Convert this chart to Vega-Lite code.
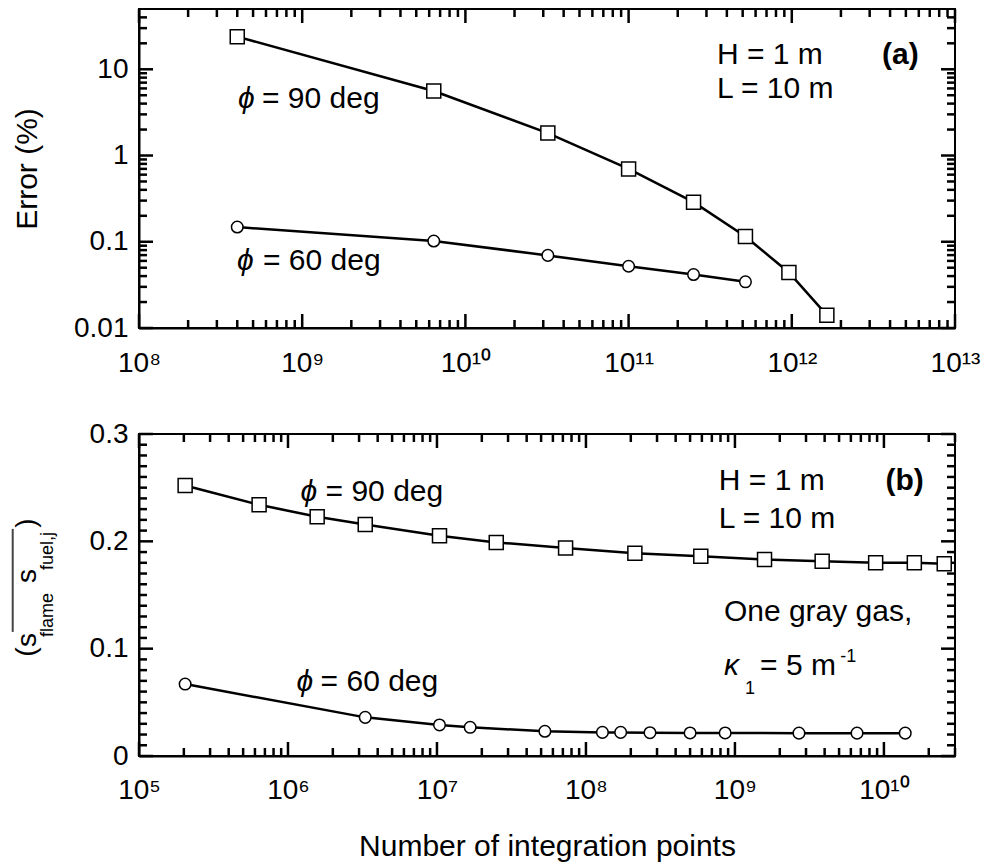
{
 "$schema": "https://vega.github.io/schema/vega-lite/v6.json",
 "background": "white",
 "padding": {"left": 10, "top": 8, "right": 5, "bottom": 2},
 "bounds": "flush",
 "spacing": 106,
 "config": {
  "view": {"stroke": "black", "strokeWidth": 2},
  "axis": {"grid": false, "domainColor": "black", "domainWidth": 2, "ticks": false,
   "labelFont": "Liberation Sans", "labelFontSize": 28, "labelColor": "black",
   "titleFont": "Liberation Sans", "titleFontSize": 30, "titleFontWeight": "normal", "titleColor": "black",
   "labelOverlap": false, "labelFlush": false, "minExtent": 0}
 },
 "datasets": {
  "pts": [
   {"p": "a", "s": "sq", "n": 4.0e8, "v": 23.9},
   {"p": "a", "s": "sq", "n": 6.4e9, "v": 5.6},
   {"p": "a", "s": "sq", "n": 3.2e10, "v": 1.82},
   {"p": "a", "s": "sq", "n": 1.0e11, "v": 0.70},
   {"p": "a", "s": "sq", "n": 2.5e11, "v": 0.288},
   {"p": "a", "s": "sq", "n": 5.2e11, "v": 0.115},
   {"p": "a", "s": "sq", "n": 9.6e11, "v": 0.044},
   {"p": "a", "s": "sq", "n": 1.64e12, "v": 0.0141},
   {"p": "a", "s": "ci", "n": 4.0e8, "v": 0.148},
   {"p": "a", "s": "ci", "n": 6.4e9, "v": 0.102},
   {"p": "a", "s": "ci", "n": 3.2e10, "v": 0.0695},
   {"p": "a", "s": "ci", "n": 1.0e11, "v": 0.052},
   {"p": "a", "s": "ci", "n": 2.5e11, "v": 0.0417},
   {"p": "a", "s": "ci", "n": 5.2e11, "v": 0.0343},
   {"p": "b", "s": "sq", "n": 2.04e5, "v": 0.252},
   {"p": "b", "s": "sq", "n": 6.4e5, "v": 0.234},
   {"p": "b", "s": "sq", "n": 1.57e6, "v": 0.223},
   {"p": "b", "s": "sq", "n": 3.3e6, "v": 0.2156},
   {"p": "b", "s": "sq", "n": 1.04e7, "v": 0.2053},
   {"p": "b", "s": "sq", "n": 2.5e7, "v": 0.199},
   {"p": "b", "s": "sq", "n": 7.3e7, "v": 0.1938},
   {"p": "b", "s": "sq", "n": 2.13e8, "v": 0.189},
   {"p": "b", "s": "sq", "n": 5.9e8, "v": 0.186},
   {"p": "b", "s": "sq", "n": 1.58e9, "v": 0.183},
   {"p": "b", "s": "sq", "n": 3.85e9, "v": 0.1815},
   {"p": "b", "s": "sq", "n": 8.8e9, "v": 0.18},
   {"p": "b", "s": "sq", "n": 1.6e10, "v": 0.18},
   {"p": "b", "s": "sq", "n": 2.54e10, "v": 0.179},
   {"p": "b", "s": "ci", "n": 2.04e5, "v": 0.067},
   {"p": "b", "s": "ci", "n": 3.3e6, "v": 0.036},
   {"p": "b", "s": "ci", "n": 1.04e7, "v": 0.0289},
   {"p": "b", "s": "ci", "n": 1.67e7, "v": 0.0267},
   {"p": "b", "s": "ci", "n": 5.3e7, "v": 0.023},
   {"p": "b", "s": "ci", "n": 1.29e8, "v": 0.022},
   {"p": "b", "s": "ci", "n": 1.71e8, "v": 0.022},
   {"p": "b", "s": "ci", "n": 2.69e8, "v": 0.0217},
   {"p": "b", "s": "ci", "n": 5.0e8, "v": 0.0215},
   {"p": "b", "s": "ci", "n": 8.6e8, "v": 0.0215},
   {"p": "b", "s": "ci", "n": 2.69e9, "v": 0.0213},
   {"p": "b", "s": "ci", "n": 6.6e9, "v": 0.0213},
   {"p": "b", "s": "ci", "n": 1.39e10, "v": 0.0213}
  ],
  "tka": [
   {"ax": "x", "k": "M", "v": 1e8}, {"ax": "x", "k": "M", "v": 1e9}, {"ax": "x", "k": "M", "v": 1e10}, {"ax": "x", "k": "M", "v": 1e11}, {"ax": "x", "k": "M", "v": 1e12}, {"ax": "x", "k": "M", "v": 1e13},
   {"ax": "x", "k": "m", "v": 2e8}, {"ax": "x", "k": "m", "v": 3e8}, {"ax": "x", "k": "m", "v": 4e8}, {"ax": "x", "k": "m", "v": 5e8}, {"ax": "x", "k": "m", "v": 6e8}, {"ax": "x", "k": "m", "v": 7e8}, {"ax": "x", "k": "m", "v": 8e8}, {"ax": "x", "k": "m", "v": 9e8},
   {"ax": "x", "k": "m", "v": 2e9}, {"ax": "x", "k": "m", "v": 3e9}, {"ax": "x", "k": "m", "v": 4e9}, {"ax": "x", "k": "m", "v": 5e9}, {"ax": "x", "k": "m", "v": 6e9}, {"ax": "x", "k": "m", "v": 7e9}, {"ax": "x", "k": "m", "v": 8e9}, {"ax": "x", "k": "m", "v": 9e9},
   {"ax": "x", "k": "m", "v": 2e10}, {"ax": "x", "k": "m", "v": 3e10}, {"ax": "x", "k": "m", "v": 4e10}, {"ax": "x", "k": "m", "v": 5e10}, {"ax": "x", "k": "m", "v": 6e10}, {"ax": "x", "k": "m", "v": 7e10}, {"ax": "x", "k": "m", "v": 8e10}, {"ax": "x", "k": "m", "v": 9e10},
   {"ax": "x", "k": "m", "v": 2e11}, {"ax": "x", "k": "m", "v": 3e11}, {"ax": "x", "k": "m", "v": 4e11}, {"ax": "x", "k": "m", "v": 5e11}, {"ax": "x", "k": "m", "v": 6e11}, {"ax": "x", "k": "m", "v": 7e11}, {"ax": "x", "k": "m", "v": 8e11}, {"ax": "x", "k": "m", "v": 9e11},
   {"ax": "x", "k": "m", "v": 2e12}, {"ax": "x", "k": "m", "v": 3e12}, {"ax": "x", "k": "m", "v": 4e12}, {"ax": "x", "k": "m", "v": 5e12}, {"ax": "x", "k": "m", "v": 6e12}, {"ax": "x", "k": "m", "v": 7e12}, {"ax": "x", "k": "m", "v": 8e12}, {"ax": "x", "k": "m", "v": 9e12},
   {"ax": "y", "k": "M", "v": 0.01}, {"ax": "y", "k": "M", "v": 0.1}, {"ax": "y", "k": "M", "v": 1}, {"ax": "y", "k": "M", "v": 10},
   {"ax": "y", "k": "m", "v": 0.02}, {"ax": "y", "k": "m", "v": 0.03}, {"ax": "y", "k": "m", "v": 0.04}, {"ax": "y", "k": "m", "v": 0.05}, {"ax": "y", "k": "m", "v": 0.06}, {"ax": "y", "k": "m", "v": 0.07}, {"ax": "y", "k": "m", "v": 0.08}, {"ax": "y", "k": "m", "v": 0.09},
   {"ax": "y", "k": "m", "v": 0.2}, {"ax": "y", "k": "m", "v": 0.3}, {"ax": "y", "k": "m", "v": 0.4}, {"ax": "y", "k": "m", "v": 0.5}, {"ax": "y", "k": "m", "v": 0.6}, {"ax": "y", "k": "m", "v": 0.7}, {"ax": "y", "k": "m", "v": 0.8}, {"ax": "y", "k": "m", "v": 0.9},
   {"ax": "y", "k": "m", "v": 2}, {"ax": "y", "k": "m", "v": 3}, {"ax": "y", "k": "m", "v": 4}, {"ax": "y", "k": "m", "v": 5}, {"ax": "y", "k": "m", "v": 6}, {"ax": "y", "k": "m", "v": 7}, {"ax": "y", "k": "m", "v": 8}, {"ax": "y", "k": "m", "v": 9},
   {"ax": "y", "k": "m", "v": 20}, {"ax": "y", "k": "m", "v": 30}, {"ax": "y", "k": "m", "v": 40}
  ],
  "tkb": [
   {"ax": "x", "k": "M", "v": 1e5}, {"ax": "x", "k": "M", "v": 1e6}, {"ax": "x", "k": "M", "v": 1e7}, {"ax": "x", "k": "M", "v": 1e8}, {"ax": "x", "k": "M", "v": 1e9}, {"ax": "x", "k": "M", "v": 1e10},
   {"ax": "x", "k": "m", "v": 2e5}, {"ax": "x", "k": "m", "v": 3e5}, {"ax": "x", "k": "m", "v": 4e5}, {"ax": "x", "k": "m", "v": 5e5}, {"ax": "x", "k": "m", "v": 6e5}, {"ax": "x", "k": "m", "v": 7e5}, {"ax": "x", "k": "m", "v": 8e5}, {"ax": "x", "k": "m", "v": 9e5},
   {"ax": "x", "k": "m", "v": 2e6}, {"ax": "x", "k": "m", "v": 3e6}, {"ax": "x", "k": "m", "v": 4e6}, {"ax": "x", "k": "m", "v": 5e6}, {"ax": "x", "k": "m", "v": 6e6}, {"ax": "x", "k": "m", "v": 7e6}, {"ax": "x", "k": "m", "v": 8e6}, {"ax": "x", "k": "m", "v": 9e6},
   {"ax": "x", "k": "m", "v": 2e7}, {"ax": "x", "k": "m", "v": 3e7}, {"ax": "x", "k": "m", "v": 4e7}, {"ax": "x", "k": "m", "v": 5e7}, {"ax": "x", "k": "m", "v": 6e7}, {"ax": "x", "k": "m", "v": 7e7}, {"ax": "x", "k": "m", "v": 8e7}, {"ax": "x", "k": "m", "v": 9e7},
   {"ax": "x", "k": "m", "v": 2e8}, {"ax": "x", "k": "m", "v": 3e8}, {"ax": "x", "k": "m", "v": 4e8}, {"ax": "x", "k": "m", "v": 5e8}, {"ax": "x", "k": "m", "v": 6e8}, {"ax": "x", "k": "m", "v": 7e8}, {"ax": "x", "k": "m", "v": 8e8}, {"ax": "x", "k": "m", "v": 9e8},
   {"ax": "x", "k": "m", "v": 2e9}, {"ax": "x", "k": "m", "v": 3e9}, {"ax": "x", "k": "m", "v": 4e9}, {"ax": "x", "k": "m", "v": 5e9}, {"ax": "x", "k": "m", "v": 6e9}, {"ax": "x", "k": "m", "v": 7e9}, {"ax": "x", "k": "m", "v": 8e9}, {"ax": "x", "k": "m", "v": 9e9},
   {"ax": "x", "k": "m", "v": 2e10}, {"ax": "x", "k": "m", "v": 3e10},
   {"ax": "y", "k": "M", "v": 0}, {"ax": "y", "k": "M", "v": 0.1}, {"ax": "y", "k": "M", "v": 0.2}, {"ax": "y", "k": "M", "v": 0.3},
   {"ax": "y", "k": "m", "v": 0.01}, {"ax": "y", "k": "m", "v": 0.02}, {"ax": "y", "k": "m", "v": 0.03}, {"ax": "y", "k": "m", "v": 0.04}, {"ax": "y", "k": "m", "v": 0.05}, {"ax": "y", "k": "m", "v": 0.06}, {"ax": "y", "k": "m", "v": 0.07}, {"ax": "y", "k": "m", "v": 0.08}, {"ax": "y", "k": "m", "v": 0.09},
   {"ax": "y", "k": "m", "v": 0.11}, {"ax": "y", "k": "m", "v": 0.12}, {"ax": "y", "k": "m", "v": 0.13}, {"ax": "y", "k": "m", "v": 0.14}, {"ax": "y", "k": "m", "v": 0.15}, {"ax": "y", "k": "m", "v": 0.16}, {"ax": "y", "k": "m", "v": 0.17}, {"ax": "y", "k": "m", "v": 0.18}, {"ax": "y", "k": "m", "v": 0.19},
   {"ax": "y", "k": "m", "v": 0.21}, {"ax": "y", "k": "m", "v": 0.22}, {"ax": "y", "k": "m", "v": 0.23}, {"ax": "y", "k": "m", "v": 0.24}, {"ax": "y", "k": "m", "v": 0.25}, {"ax": "y", "k": "m", "v": 0.26}, {"ax": "y", "k": "m", "v": 0.27}, {"ax": "y", "k": "m", "v": 0.28}, {"ax": "y", "k": "m", "v": 0.29}
  ],
  "ann": [
   {"p": "a", "role": "phi", "x": 4.04e8, "y": 4.5, "t": "ϕ"},
   {"p": "a", "role": "text", "x": 5.67e8, "y": 4.5, "t": "= 90 deg"},
   {"p": "a", "role": "phi", "x": 3.99e8, "y": 0.0603, "t": "ϕ"},
   {"p": "a", "role": "text", "x": 5.75e8, "y": 0.0603, "t": "= 60 deg"},
   {"p": "a", "role": "text", "x": 3.48e11, "y": 14.5, "t": "H = 1 m"},
   {"p": "a", "role": "text", "x": 3.48e11, "y": 5.87, "t": "L = 10 m"},
   {"p": "a", "role": "bold", "x": 3.57e12, "y": 14.5, "t": "(a)"},
   {"p": "b", "role": "phi", "x": 1.214e6, "y": 0.246, "t": "ϕ"},
   {"p": "b", "role": "text", "x": 1.788e6, "y": 0.246, "t": "= 90 deg"},
   {"p": "b", "role": "phi", "x": 1.141e6, "y": 0.069, "t": "ϕ"},
   {"p": "b", "role": "text", "x": 1.656e6, "y": 0.069, "t": "= 60 deg"},
   {"p": "b", "role": "text", "x": 7.8e8, "y": 0.2563, "t": "H = 1 m"},
   {"p": "b", "role": "text", "x": 7.8e8, "y": 0.2209, "t": "L = 10 m"},
   {"p": "b", "role": "bold", "x": 1.024e10, "y": 0.2563, "t": "(b)"},
   {"p": "b", "role": "text", "x": 8.43e8, "y": 0.1342, "t": "One gray gas,"},
   {"p": "b", "role": "phi", "x": 8.43e8, "y": 0.0839, "t": "κ"},
   {"p": "b", "role": "text", "x": 1.474e9, "y": 0.0839, "t": "= 5 m"},
   {"p": "b", "role": "small", "x": 1.168e9, "y": 0.0624, "t": "1"},
   {"p": "b", "role": "small", "x": 5.09e9, "y": 0.0923, "t": "-1"},
   {"p": "b", "role": "ybig", "x": 1.76e4, "y": 0.0969, "t": "("},
   {"p": "b", "role": "ybig", "x": 1.79e4, "y": 0.1081, "t": "s"},
   {"p": "b", "role": "ysmall", "x": 2.45e4, "y": 0.1314, "t": "flame"},
   {"p": "b", "role": "ybig", "x": 1.79e4, "y": 0.1678, "t": "s"},
   {"p": "b", "role": "ysmall", "x": 2.45e4, "y": 0.1911, "t": "fuel,j"},
   {"p": "b", "role": "ybig", "x": 1.76e4, "y": 0.2171, "t": ")"}
  ],
  "bar": [
   {"p": "b", "x": 1.42e4, "y": 0.1156, "y2": 0.2116}
  ]
 },
 "vconcat": [
  {
   "width": 816, "height": 319,
   "layer": [
    {
     "data": {"name": "pts"},
     "transform": [{"filter": "datum.p == 'a'"}],
     "mark": {"type": "line", "color": "black", "strokeWidth": 2.5},
     "encoding": {
      "x": {"field": "n", "type": "quantitative", "scale": {"type": "log", "domain": [1e8, 1e13], "nice": false},
       "axis": {"orient": "bottom", "title": null, "values": [1e8,1e9,1e10,1e11,1e12,1e13],
        "labelExpr": "'10' + (round(log(datum.value)/LN10) >= 10 ? '¹' + ['⁰','¹','²','³','⁴','⁵','⁶','⁷','⁸','⁹'][round(log(datum.value)/LN10) - 10] : ['⁰','¹','²','³','⁴','⁵','⁶','⁷','⁸','⁹'][round(log(datum.value)/LN10)])",
        "labelPadding": 21}},
      "y": {"field": "v", "type": "quantitative", "scale": {"type": "log", "domain": [0.01, 50], "nice": false},
       "axis": {"orient": "left", "title": "Error (%)", "titlePadding": 31, "values": [0.01,0.1,1,10],
        "labelExpr": "toString(datum.value)", "labelPadding": 11}},
      "detail": {"field": "s"}
     }
    },
    {
     "data": {"name": "tka"}, "transform": [{"filter": "datum.ax == 'x' && datum.k == 'M'"}],
     "mark": {"type": "tick", "orient": "vertical", "size": 14, "thickness": 2.5, "color": "black", "opacity": 1, "yOffset": -7},
     "encoding": {"x": {"field": "v", "type": "quantitative"}, "y": {"datum": 0.01, "type": "quantitative"}}
    },
    {
     "data": {"name": "tka"}, "transform": [{"filter": "datum.ax == 'x' && datum.k == 'm'"}],
     "mark": {"type": "tick", "orient": "vertical", "size": 8, "thickness": 2.5, "color": "black", "opacity": 1, "yOffset": -4},
     "encoding": {"x": {"field": "v", "type": "quantitative"}, "y": {"datum": 0.01, "type": "quantitative"}}
    },
    {
     "data": {"name": "tka"}, "transform": [{"filter": "datum.ax == 'x' && datum.k == 'M'"}],
     "mark": {"type": "tick", "orient": "vertical", "size": 14, "thickness": 2.5, "color": "black", "opacity": 1, "yOffset": 7},
     "encoding": {"x": {"field": "v", "type": "quantitative"}, "y": {"datum": 50, "type": "quantitative"}}
    },
    {
     "data": {"name": "tka"}, "transform": [{"filter": "datum.ax == 'x' && datum.k == 'm'"}],
     "mark": {"type": "tick", "orient": "vertical", "size": 8, "thickness": 2.5, "color": "black", "opacity": 1, "yOffset": 4},
     "encoding": {"x": {"field": "v", "type": "quantitative"}, "y": {"datum": 50, "type": "quantitative"}}
    },
    {
     "data": {"name": "tka"}, "transform": [{"filter": "datum.ax == 'y' && datum.k == 'M'"}],
     "mark": {"type": "tick", "orient": "horizontal", "size": 14, "thickness": 2.5, "color": "black", "opacity": 1, "xOffset": 7},
     "encoding": {"y": {"field": "v", "type": "quantitative"}, "x": {"datum": 1e8, "type": "quantitative"}}
    },
    {
     "data": {"name": "tka"}, "transform": [{"filter": "datum.ax == 'y' && datum.k == 'm'"}],
     "mark": {"type": "tick", "orient": "horizontal", "size": 8, "thickness": 2.5, "color": "black", "opacity": 1, "xOffset": 4},
     "encoding": {"y": {"field": "v", "type": "quantitative"}, "x": {"datum": 1e8, "type": "quantitative"}}
    },
    {
     "data": {"name": "tka"}, "transform": [{"filter": "datum.ax == 'y' && datum.k == 'M'"}],
     "mark": {"type": "tick", "orient": "horizontal", "size": 14, "thickness": 2.5, "color": "black", "opacity": 1, "xOffset": -7},
     "encoding": {"y": {"field": "v", "type": "quantitative"}, "x": {"datum": 1e13, "type": "quantitative"}}
    },
    {
     "data": {"name": "tka"}, "transform": [{"filter": "datum.ax == 'y' && datum.k == 'm'"}],
     "mark": {"type": "tick", "orient": "horizontal", "size": 8, "thickness": 2.5, "color": "black", "opacity": 1, "xOffset": -4},
     "encoding": {"y": {"field": "v", "type": "quantitative"}, "x": {"datum": 1e13, "type": "quantitative"}}
    },
    {
     "data": {"name": "pts"},
     "transform": [{"filter": "datum.p == 'a' && datum.s == 'sq'"}],
     "mark": {"type": "point", "shape": "square", "size": 196, "filled": true, "fill": "white", "stroke": "black", "strokeWidth": 1.5, "opacity": 1},
     "encoding": {"x": {"field": "n", "type": "quantitative"}, "y": {"field": "v", "type": "quantitative"}}
    },
    {
     "data": {"name": "pts"},
     "transform": [{"filter": "datum.p == 'a' && datum.s == 'ci'"}],
     "mark": {"type": "point", "shape": "circle", "size": 133, "filled": true, "fill": "white", "stroke": "black", "strokeWidth": 1.5, "opacity": 1},
     "encoding": {"x": {"field": "n", "type": "quantitative"}, "y": {"field": "v", "type": "quantitative"}}
    },
    {
     "data": {"name": "ann"},
     "transform": [{"filter": "datum.p == 'a' && datum.role == 'text'"}],
     "mark": {"type": "text", "font": "Liberation Sans", "fontSize": 30, "align": "left", "baseline": "middle", "color": "black"},
     "encoding": {"x": {"field": "x", "type": "quantitative"}, "y": {"field": "y", "type": "quantitative"}, "text": {"field": "t"}}
    },
    {
     "data": {"name": "ann"},
     "transform": [{"filter": "datum.p == 'a' && datum.role == 'phi'"}],
     "mark": {"type": "text", "font": "Liberation Sans", "fontSize": 30, "fontStyle": "italic", "align": "left", "baseline": "middle", "color": "black"},
     "encoding": {"x": {"field": "x", "type": "quantitative"}, "y": {"field": "y", "type": "quantitative"}, "text": {"field": "t"}}
    },
    {
     "data": {"name": "ann"},
     "transform": [{"filter": "datum.p == 'a' && datum.role == 'bold'"}],
     "mark": {"type": "text", "font": "Liberation Sans", "fontSize": 30, "fontWeight": "bold", "align": "left", "baseline": "middle", "color": "black"},
     "encoding": {"x": {"field": "x", "type": "quantitative"}, "y": {"field": "y", "type": "quantitative"}, "text": {"field": "t"}}
    }
   ]
  },
  {
   "width": 816, "height": 322,
   "layer": [
    {
     "data": {"name": "pts"},
     "transform": [{"filter": "datum.p == 'b'"}],
     "mark": {"type": "line", "color": "black", "strokeWidth": 2.5},
     "encoding": {
      "x": {"field": "n", "type": "quantitative", "scale": {"type": "log", "domain": [1e5, 3e10], "nice": false},
       "axis": {"orient": "bottom", "title": "Number of integration points", "titlePadding": 27, "values": [1e5,1e6,1e7,1e8,1e9,1e10],
        "labelExpr": "'10' + (round(log(datum.value)/LN10) >= 10 ? '¹' + ['⁰','¹','²','³','⁴','⁵','⁶','⁷','⁸','⁹'][round(log(datum.value)/LN10) - 10] : ['⁰','¹','²','³','⁴','⁵','⁶','⁷','⁸','⁹'][round(log(datum.value)/LN10)])",
        "labelPadding": 20}},
      "y": {"field": "v", "type": "quantitative", "scale": {"type": "linear", "domain": [0, 0.3], "nice": false, "zero": false},
       "axis": {"orient": "left", "title": null, "values": [0, 0.1, 0.2, 0.3],
        "labelExpr": "toString(datum.value)", "labelPadding": 11}},
      "detail": {"field": "s"}
     }
    },
    {
     "data": {"name": "tkb"}, "transform": [{"filter": "datum.ax == 'x' && datum.k == 'M'"}],
     "mark": {"type": "tick", "orient": "vertical", "size": 14, "thickness": 2.5, "color": "black", "opacity": 1, "yOffset": -7},
     "encoding": {"x": {"field": "v", "type": "quantitative"}, "y": {"datum": 0, "type": "quantitative"}}
    },
    {
     "data": {"name": "tkb"}, "transform": [{"filter": "datum.ax == 'x' && datum.k == 'm'"}],
     "mark": {"type": "tick", "orient": "vertical", "size": 8, "thickness": 2.5, "color": "black", "opacity": 1, "yOffset": -4},
     "encoding": {"x": {"field": "v", "type": "quantitative"}, "y": {"datum": 0, "type": "quantitative"}}
    },
    {
     "data": {"name": "tkb"}, "transform": [{"filter": "datum.ax == 'x' && datum.k == 'M'"}],
     "mark": {"type": "tick", "orient": "vertical", "size": 14, "thickness": 2.5, "color": "black", "opacity": 1, "yOffset": 7},
     "encoding": {"x": {"field": "v", "type": "quantitative"}, "y": {"datum": 0.3, "type": "quantitative"}}
    },
    {
     "data": {"name": "tkb"}, "transform": [{"filter": "datum.ax == 'x' && datum.k == 'm'"}],
     "mark": {"type": "tick", "orient": "vertical", "size": 8, "thickness": 2.5, "color": "black", "opacity": 1, "yOffset": 4},
     "encoding": {"x": {"field": "v", "type": "quantitative"}, "y": {"datum": 0.3, "type": "quantitative"}}
    },
    {
     "data": {"name": "tkb"}, "transform": [{"filter": "datum.ax == 'y' && datum.k == 'M'"}],
     "mark": {"type": "tick", "orient": "horizontal", "size": 14, "thickness": 2.5, "color": "black", "opacity": 1, "xOffset": 7},
     "encoding": {"y": {"field": "v", "type": "quantitative"}, "x": {"datum": 1e5, "type": "quantitative"}}
    },
    {
     "data": {"name": "tkb"}, "transform": [{"filter": "datum.ax == 'y' && datum.k == 'm'"}],
     "mark": {"type": "tick", "orient": "horizontal", "size": 8, "thickness": 2.5, "color": "black", "opacity": 1, "xOffset": 4},
     "encoding": {"y": {"field": "v", "type": "quantitative"}, "x": {"datum": 1e5, "type": "quantitative"}}
    },
    {
     "data": {"name": "tkb"}, "transform": [{"filter": "datum.ax == 'y' && datum.k == 'M'"}],
     "mark": {"type": "tick", "orient": "horizontal", "size": 14, "thickness": 2.5, "color": "black", "opacity": 1, "xOffset": -7},
     "encoding": {"y": {"field": "v", "type": "quantitative"}, "x": {"datum": 3e10, "type": "quantitative"}}
    },
    {
     "data": {"name": "tkb"}, "transform": [{"filter": "datum.ax == 'y' && datum.k == 'm'"}],
     "mark": {"type": "tick", "orient": "horizontal", "size": 8, "thickness": 2.5, "color": "black", "opacity": 1, "xOffset": -4},
     "encoding": {"y": {"field": "v", "type": "quantitative"}, "x": {"datum": 3e10, "type": "quantitative"}}
    },
    {
     "data": {"name": "pts"},
     "transform": [{"filter": "datum.p == 'b' && datum.s == 'sq'"}],
     "mark": {"type": "point", "shape": "square", "size": 196, "filled": true, "fill": "white", "stroke": "black", "strokeWidth": 1.5, "opacity": 1},
     "encoding": {"x": {"field": "n", "type": "quantitative"}, "y": {"field": "v", "type": "quantitative"}}
    },
    {
     "data": {"name": "pts"},
     "transform": [{"filter": "datum.p == 'b' && datum.s == 'ci'"}],
     "mark": {"type": "point", "shape": "circle", "size": 133, "filled": true, "fill": "white", "stroke": "black", "strokeWidth": 1.5, "opacity": 1},
     "encoding": {"x": {"field": "n", "type": "quantitative"}, "y": {"field": "v", "type": "quantitative"}}
    },
    {
     "data": {"name": "ann"},
     "transform": [{"filter": "datum.p == 'b' && datum.role == 'text'"}],
     "mark": {"type": "text", "font": "Liberation Sans", "fontSize": 30, "align": "left", "baseline": "middle", "color": "black"},
     "encoding": {"x": {"field": "x", "type": "quantitative"}, "y": {"field": "y", "type": "quantitative"}, "text": {"field": "t"}}
    },
    {
     "data": {"name": "ann"},
     "transform": [{"filter": "datum.p == 'b' && datum.role == 'phi'"}],
     "mark": {"type": "text", "font": "Liberation Sans", "fontSize": 30, "fontStyle": "italic", "align": "left", "baseline": "middle", "color": "black"},
     "encoding": {"x": {"field": "x", "type": "quantitative"}, "y": {"field": "y", "type": "quantitative"}, "text": {"field": "t"}}
    },
    {
     "data": {"name": "ann"},
     "transform": [{"filter": "datum.p == 'b' && datum.role == 'bold'"}],
     "mark": {"type": "text", "font": "Liberation Sans", "fontSize": 30, "fontWeight": "bold", "align": "left", "baseline": "middle", "color": "black"},
     "encoding": {"x": {"field": "x", "type": "quantitative"}, "y": {"field": "y", "type": "quantitative"}, "text": {"field": "t"}}
    },
    {
     "data": {"name": "ann"},
     "transform": [{"filter": "datum.p == 'b' && datum.role == 'small'"}],
     "mark": {"type": "text", "font": "Liberation Sans", "fontSize": 18, "align": "left", "baseline": "middle", "color": "black"},
     "encoding": {"x": {"field": "x", "type": "quantitative"}, "y": {"field": "y", "type": "quantitative"}, "text": {"field": "t"}}
    },
    {
     "data": {"name": "ann"},
     "transform": [{"filter": "datum.p == 'b' && datum.role == 'ybig'"}],
     "mark": {"type": "text", "font": "Liberation Sans", "fontSize": 28, "angle": 270, "align": "center", "baseline": "middle", "color": "black"},
     "encoding": {"x": {"field": "x", "type": "quantitative"}, "y": {"field": "y", "type": "quantitative"}, "text": {"field": "t"}}
    },
    {
     "data": {"name": "ann"},
     "transform": [{"filter": "datum.p == 'b' && datum.role == 'ysmall'"}],
     "mark": {"type": "text", "font": "Liberation Sans", "fontSize": 18, "angle": 270, "align": "center", "baseline": "middle", "color": "black"},
     "encoding": {"x": {"field": "x", "type": "quantitative"}, "y": {"field": "y", "type": "quantitative"}, "text": {"field": "t"}}
    },
    {
     "data": {"name": "bar"},
     "mark": {"type": "rule", "color": "#444444", "strokeWidth": 2},
     "encoding": {"x": {"field": "x", "type": "quantitative"}, "y": {"field": "y", "type": "quantitative"}, "y2": {"field": "y2"}}
    }
   ]
  }
 ]
}
